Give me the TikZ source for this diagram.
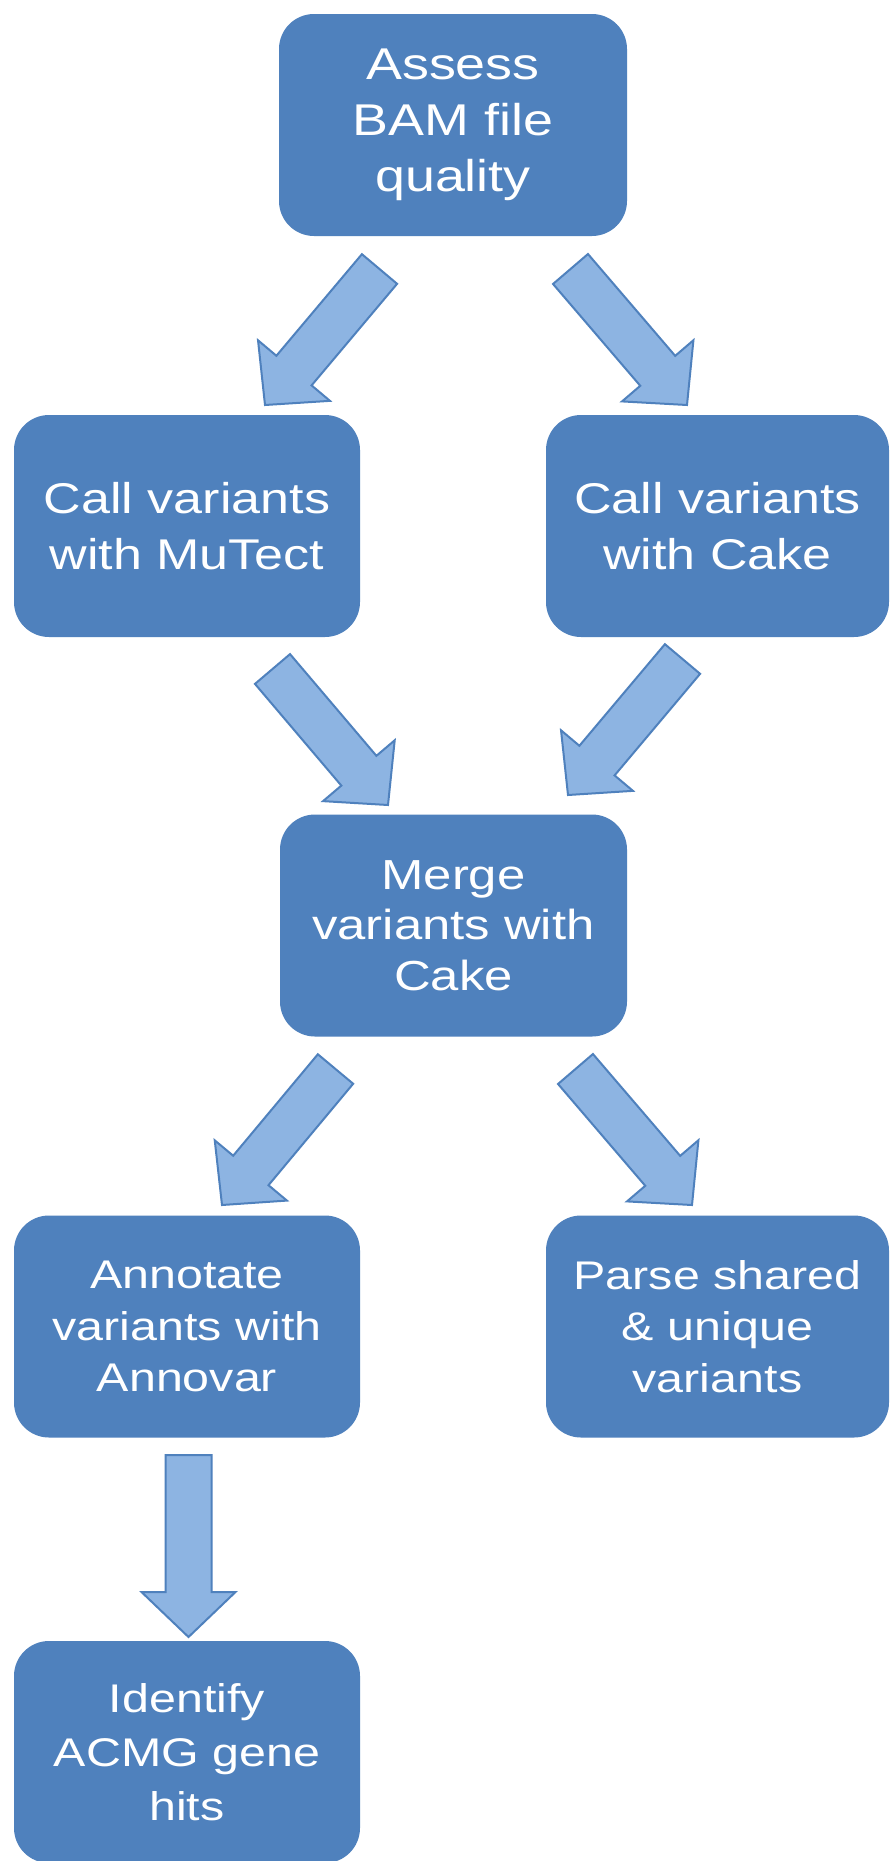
\documentclass[tikz,border=0pt]{standalone}
\usepackage{fontspec}
\setmainfont{Liberation Sans}[FakeStretch=1.21]
\usetikzlibrary{calc}
\definecolor{boxblue}{HTML}{4F81BD}
\definecolor{arrfill}{HTML}{8DB4E2}
\definecolor{arrline}{HTML}{4F81BD}
\newcommand\blockarr[2]{%
  \coordinate (hb) at ($(#2)!45pt!(#1)$);
  \draw[arrowshape] ($(#1)!23pt!90:(#2)$) -- ($(hb)!23pt!90:(#2)$) -- ($(hb)!47pt!90:(#2)$) -- (#2) -- ($(hb)!47pt!-90:(#2)$) -- ($(hb)!23pt!-90:(#2)$) -- ($(#1)!23pt!-90:(#2)$) -- cycle;}
\begin{document}
\begin{tikzpicture}[x=1pt,y=-1pt,
  stepbox/.style={fill=boxblue, rounded corners=35pt, text=white, align=center,
    inner sep=0pt, minimum width=346pt, minimum height=222pt},
  fa/.style={font=\fontsize{44.5}{56}\selectfont},
  fb/.style={font=\fontsize{43}{56}\selectfont},
  fc/.style={font=\fontsize{42}{50.5}\selectfont},
  fd/.style={font=\fontsize{40}{51.6}\selectfont},
  fe/.style={font=\fontsize{40}{54}\selectfont},
  arrowshape/.style={fill=arrfill, draw=arrline, line width=2pt, line join=miter}]
\useasboundingbox (0,0) rectangle (891,1861);
\fill[white] (0,0) rectangle (891,1861);

\node[stepbox, fa, minimum width=348pt] (assess) at (453,125) {Assess\\BAM file\\quality};
\node[stepbox, fb] (mutect) at (187,526) {Call variants\\with MuTect};
\node[stepbox, fb, minimum width=343pt] (cake) at (717.5,526) {Call variants\\with Cake};
\node[stepbox, fc, minimum width=347pt] (merge) at (453.5,925.5) {Merge\\variants with\\Cake};
\node[stepbox, fd] (annot) at (187,1326.5) {Annotate\\variants with\\Annovar};
\node[stepbox, fd, minimum width=343pt] (parse) at (717.5,1326.5) {Parse shared\\\& unique\\variants};
\node[stepbox, fe] (acmg) at (187,1752) {Identify\\ACMG gene\\hits};

\coordinate (a1s) at (379.5,269);  \coordinate (a1e) at (265,405);
\coordinate (a2s) at (570.5,269);  \coordinate (a2e) at (687,405);
\coordinate (a3s) at (272.5,669);  \coordinate (a3e) at (388,805);
\coordinate (a4s) at (682.5,659);  \coordinate (a4e) at (568,795);
\coordinate (a5s) at (335.5,1069); \coordinate (a5e) at (222,1205);
\coordinate (a6s) at (575.5,1069); \coordinate (a6e) at (692,1205);
\coordinate (a7s) at (188.5,1455); \coordinate (a7e) at (188.5,1637);

\blockarr{a1s}{a1e}
\blockarr{a2s}{a2e}
\blockarr{a3s}{a3e}
\blockarr{a4s}{a4e}
\blockarr{a5s}{a5e}
\blockarr{a6s}{a6e}
\blockarr{a7s}{a7e}
\end{tikzpicture}
\end{document}
